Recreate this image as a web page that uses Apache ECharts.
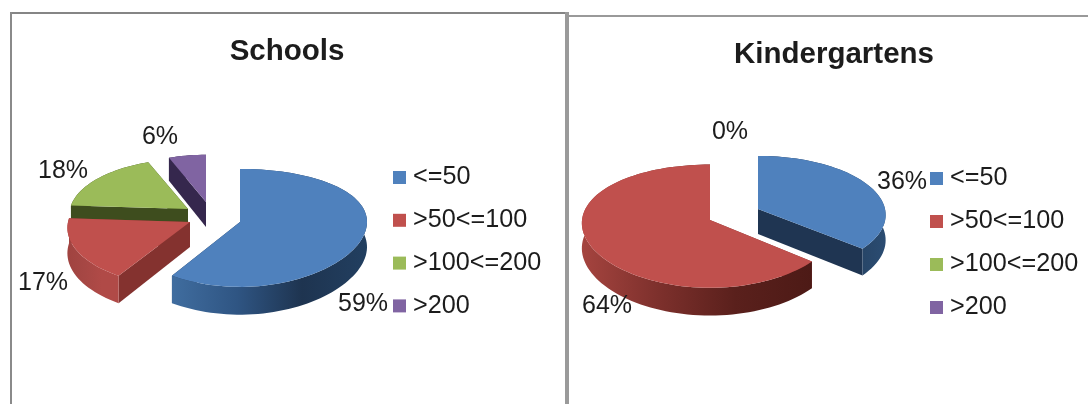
<!DOCTYPE html>
<html>
<head>
<meta charset="utf-8">
<style>html,body{margin:0;padding:0;background:#fff}#chart{width:1088px;height:404px}</style>
<script src="https://cdn.jsdelivr.net/npm/echarts@6/dist/echarts.min.js"></script>
</head>
<body>
<div id="chart"></div>
<script>
// Share of institutions per size band
const categories = ['<=50', '>50<=100', '>100<=200', '>200'];
const schoolShares = [59, 17, 18, 6];
const kindergartenShares = [36, 64, 0, 0];

const fontFamily = '"Liberation Sans", Arial, sans-serif';
const inkColor = '#1c1c1c';
const topColors = ['#4f81bd', '#c0504d', '#9bbb59', '#8064a2'];
const cutColors = ['#1f3552', '#84322f', '#3e4d1e', '#35274d'];

// Perspective of the tilted pie plane
const nearFar = 0.1;
const wallHeight = 25;

const schoolsLayout = {
  origins: [[240, 222], [190, 222], [188, 209], [206, 202]],
  radii: [127, 122, 118, 110],
  tilts: [58.4, 58.4, 55, 52],
  spreads: [0, 0.1, 0.1, 0.1],
  labels: [[363, 304], [43, 283], [63, 171], [160, 137]],
  walls: [
    ['#406d9f', '#2f5583', '#1e3450', '#223f60'],
    ['#a04340', '#a64744', '#b04a47', '#b04a47'],
    ['#3e4d1e', '#3e4d1e', '#3e4d1e', '#3e4d1e'],
    ['#35274d', '#35274d', '#35274d', '#35274d']
  ]
};
const kindergartensLayout = {
  origins: [[758, 209], [710, 220], [730, 200], [730, 200]],
  radii: [127, 128, 120, 120],
  tilts: [58.4, 61, 58.4, 58.4],
  spreads: [0.1, 0.05, 0.1, 0.1],
  labels: [[902, 182], [607, 306], [730, 132], [730, 132]],
  walls: [
    ['#1f3552', '#1f3552', '#24405f', '#2b4c72'],
    ['#a5443f', '#7d302c', '#5a201c', '#4d1a16'],
    ['#3e4d1e', '#3e4d1e', '#3e4d1e', '#3e4d1e'],
    ['#35274d', '#35274d', '#35274d', '#35274d']
  ]
};

function planePoint(layout, index, angle, drop) {
  const origin = layout.origins[index];
  const v = Math.cos(angle);
  const d = 1 + nearFar * v;
  return [
    origin[0] + layout.radii[index] * Math.sin(angle) / (1 + layout.spreads[index] * v),
    origin[1] - layout.tilts[index] * v / d + drop * wallHeight / d
  ];
}

function apexPoint(origin, drop) {
  return [origin[0], origin[1] + drop * wallHeight];
}

function sliceShapes(shares, layout, index, rowStart, value) {
  const total = shares.reduce((a, b) => a + b, 0);
  const toAngle = s => echarts.number.linearMap(s, [0, total], [0, Math.PI * 2]);
  const a0 = toAngle(rowStart);
  const a1 = toAngle(rowStart + value);
  const origin = layout.origins[index];
  const rank = (shares.length - index) * 10;
  const children = [];

  if (value > 0) {
    const steps = Math.max(6, Math.ceil(value * 1.5));
    const rim = [];
    const rimLow = [];
    for (let i = 0; i <= steps; i++) {
      const a = a0 + (a1 - a0) * i / steps;
      rim.push(planePoint(layout, index, a, 0));
      rimLow.push(planePoint(layout, index, a, 1));
    }
    const quad = a => [
      apexPoint(origin, 0), planePoint(layout, index, a, 0),
      planePoint(layout, index, a, 1), apexPoint(origin, 1)
    ];
    children.push({ type: 'polygon', z2: rank, shape: { points: quad(a1) }, style: { fill: cutColors[index] } });
    children.push({ type: 'polygon', z2: rank + 1, shape: { points: quad(a0) }, style: { fill: cutColors[index] } });

    const stops = layout.walls[index];
    children.push({
      type: 'polygon', z2: rank + 2,
      shape: { points: rim.concat(rimLow.slice().reverse()) },
      style: {
        fill: new echarts.graphic.LinearGradient(0, 0, 1, 0, stops.map((color, i) => ({
          offset: i / (stops.length - 1), color
        })))
      }
    });
    children.push({
      type: 'polygon', z2: rank + 3,
      shape: { points: [apexPoint(origin, 0)].concat(rim) },
      style: { fill: topColors[index] }
    });
  }

  const at = layout.labels[index];
  const showLabel = value > 0 || index === 2;
  if (showLabel) {
    children.push({
      type: 'text', z2: 200,
      style: {
        text: value + '%', x: at[0], y: at[1], align: 'center', verticalAlign: 'middle',
        fontFamily, fontSize: 25, fill: inkColor
      }
    });
  }
  return { type: 'group', children };
}

function pieSeries(shares, layout) {
  let running = 0;
  return categories.map((name, index) => {
    const start = running;
    running += shares[index];
    return {
      type: 'custom',
      name,
      coordinateSystem: 'none',
      silent: true,
      itemStyle: { color: topColors[index] },
      data: [[shares[index], start]],
      renderItem: (params, api) => sliceShapes(shares, layout, index, api.value(1), api.value(0))
    };
  });
}

function legendAt(left, top, gap) {
  return {
    orient: 'vertical', left, top, padding: 0, data: categories, icon: 'rect',
    itemWidth: 13, itemHeight: 13, itemGap: gap, selectedMode: false,
    textStyle: { fontFamily, fontSize: 25.2, color: inkColor, padding: [0, 0, 0, 2] }
  };
}

function frameBar(x, y, width, height, fill) {
  return { type: 'rect', shape: { x, y, width, height }, style: { fill }, silent: true };
}

const chart = echarts.init(document.getElementById('chart'), null, { renderer: 'canvas' });
chart.setOption({
  animation: false,
  backgroundColor: '#ffffff',
  title: [
    { text: 'Schools', left: 282, top: 47, textAlign: 'center', textVerticalAlign: 'middle',
      textStyle: { fontFamily, fontSize: 29.5, fontWeight: 'bold', color: inkColor } },
    { text: 'Kindergartens', left: 829, top: 50, textAlign: 'center', textVerticalAlign: 'middle',
      textStyle: { fontFamily, fontSize: 29.5, fontWeight: 'bold', color: inkColor } }
  ],
  legend: [legendAt(393, 165, 17.8), legendAt(930, 166, 18)],
  graphic: [
    frameBar(10, 12, 556, 2, '#858585'),
    frameBar(10, 12, 2, 392, '#8a8a8a'),
    frameBar(565, 12, 4, 392, '#9a9a9a'),
    frameBar(567, 15, 521, 2, '#999999')
  ],
  series: pieSeries(schoolShares, schoolsLayout).concat(pieSeries(kindergartenShares, kindergartensLayout))
});
</script>
</body>
</html>
